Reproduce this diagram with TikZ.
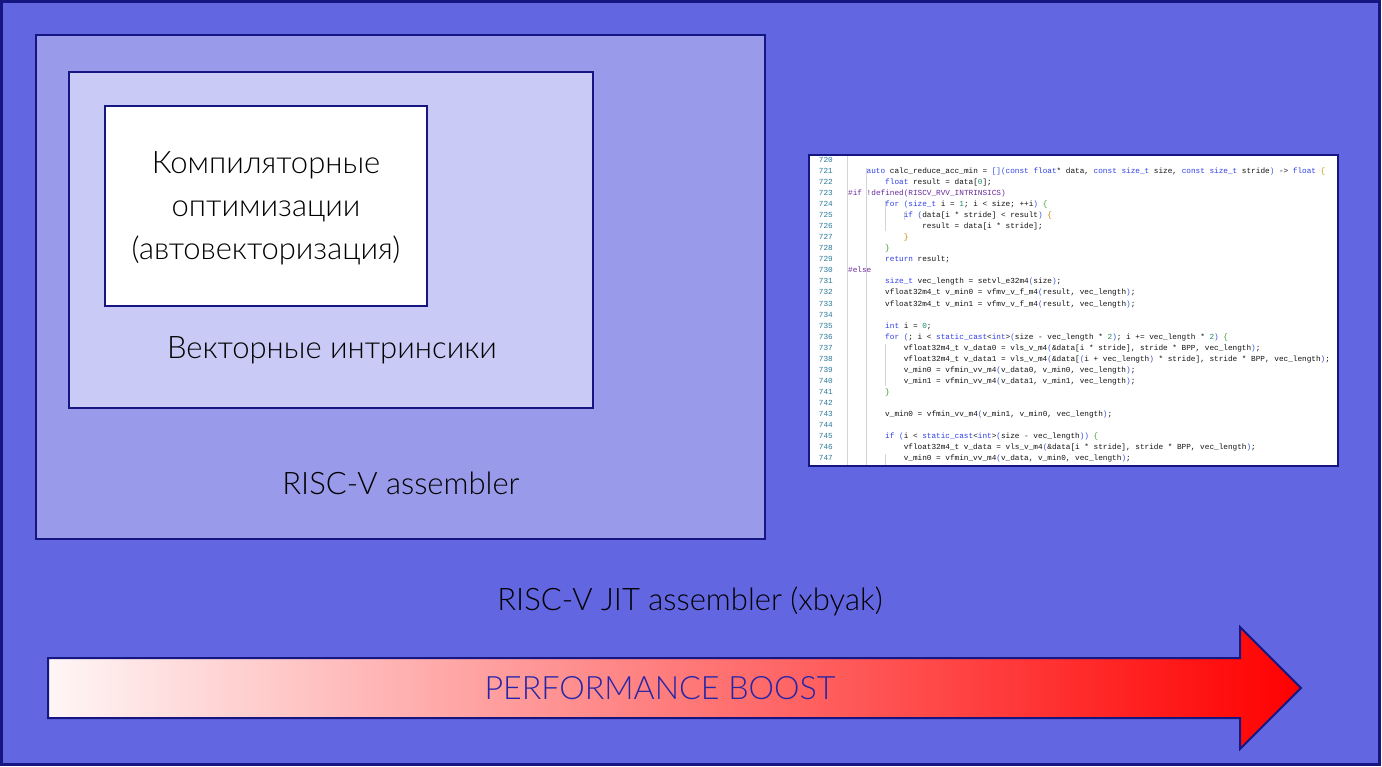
\documentclass[tikz,border=0pt]{standalone}
\usepackage{fontspec}
\setmainfont{Lato Light}
\newfontfamily\codefont{Liberation Mono}
\definecolor{frame}{HTML}{161683}
\definecolor{bgA}{HTML}{6366E1}
\definecolor{bgB}{HTML}{999AE9}
\definecolor{bgC}{HTML}{C9CAF5}
\definecolor{perf}{HTML}{2525A8}
\definecolor{kw}{HTML}{2F3FE8}
\definecolor{num}{HTML}{1F8A6A}
\definecolor{pre}{HTML}{6A2A9A}
\definecolor{cdc}{HTML}{141414}
\definecolor{lnc}{HTML}{2B7A9A}
\definecolor{bra}{HTML}{C89A00}
\definecolor{brb}{HTML}{3A9A3A}
\definecolor{brc}{HTML}{D07A00}
\definecolor{brp}{HTML}{3550D8}
\definecolor{guide}{HTML}{D4D4D4}
\definecolor{arrl}{HTML}{FFF6F6}
\newcommand\K[1]{\textcolor{kw}{#1}}
\newcommand\N[1]{\textcolor{num}{#1}}
\newcommand\Pre[1]{\textcolor{pre}{#1}}
\newcommand\Ba[1]{\textcolor{bra}{#1}}
\newcommand\Bb[1]{\textcolor{brb}{#1}}
\newcommand\Bc[1]{\textcolor{brc}{#1}}
\newcommand\Bp[1]{\textcolor{brp}{#1}}
\newcommand\codeline[3]{%
  \node[lnum] (n#1) at (833,{162.5+11.04*(#1-720)}) {#1};%
  \node[code] (c#1) at ({848+4.63*#2},{162.5+11.04*(#1-720)}) {#3};}
\newcommand\numline[1]{%
  \node[lnum] (n#1) at (833,{162.5+11.04*(#1-720)}) {#1};}
\begin{document}
\begin{tikzpicture}[x=1pt,y=-1pt,
  box/.style={draw=frame,line width=2.4pt,anchor=north west,inner sep=0,outer sep=0},
  lbl/.style={inner sep=0,text=black,font=\fontsize{31}{43}\selectfont,align=center},
  lnum/.style={inner sep=0,anchor=base east,text=lnc,font=\codefont\fontsize{7.72}{9}\selectfont},
  code/.style={inner sep=0,anchor=base west,text=cdc,font=\codefont\fontsize{7.72}{9}\selectfont\frenchspacing},
  gline/.style={draw=guide,line width=0.7pt}]
\useasboundingbox (0,0) rectangle (1382,766);
% nested boxes
\node[box,fill=bgA,minimum width=1378,minimum height=763] (outer) at (1.5,1.5) {};
\node[box,fill=bgB,minimum width=729,minimum height=504] (asm) at (36,35) {};
\node[box,fill=bgC,minimum width=524,minimum height=336] (intr) at (69,72) {};
\node[box,fill=white,minimum width=322,minimum height=200] (comp) at (105,106) {};
% labels
\node[lbl] (tcomp) at (266,208) {Компиляторные\\оптимизации\\(автовекторизация)};
\node[lbl] (tintr) at (332,350) {Векторные интринсики};
\node[lbl] (tasm) at (401,483) {RISC-V assembler};
\node[lbl] (tjit) at (690,601) {RISC-V JIT assembler (xbyak)};
% arrow
\path[draw=frame,line width=2pt,left color=arrl,right color=red,line join=miter]
  (48,658) -- (1240,658) -- (1240,627) -- (1301,688) -- (1240,749) -- (1240,718) -- (48,718) -- cycle;
\node[lbl,text=perf,font=\fontsize{32.2}{40}\selectfont] (tperf) at (660,688) {PERFORMANCE BOOST};
% code screenshot
\node[box,fill=white,line width=2pt,minimum width=529,minimum height=311] (codebox) at (809,155) {};
\draw[gline] (847,156) -- (847,465);
\draw[gline] (866,168) -- (866,465);
\draw[gline] (885,201) -- (885,231);
\draw[gline] (904,212) -- (904,220);
\draw[gline] (885,344) -- (885,386);
\draw[gline] (885,454) -- (885,465);
\numline{720}
\codeline{721}{4}{\K{auto} calc\_reduce\_acc\_min = \Bp{[](}\K{const} \K{float}* data, \K{const} \K{size\_t} size, \K{const} \K{size\_t} stride\Bp{)} -> \K{float} \Ba{\{}}
\codeline{722}{8}{\K{float} result = data[\N{0}];}
\codeline{723}{0}{\Pre{\#if !defined(RISCV\_RVV\_INTRINSICS)}}
\codeline{724}{8}{\K{for} \Bp{(}\K{size\_t} i = \N{1}; i < size; ++i\Bp{)} \Bb{\{}}
\codeline{725}{12}{\K{if} \Bp{(}data[i * stride] < result\Bp{)} \Bc{\{}}
\codeline{726}{16}{result = data[i * stride];}
\codeline{727}{12}{\Bc{\}}}
\codeline{728}{8}{\Bb{\}}}
\codeline{729}{8}{\K{return} result;}
\codeline{730}{0}{\Pre{\#else}}
\codeline{731}{8}{\K{size\_t} vec\_length = setvl\_e32m4\Bp{(}size\Bp{)};}
\codeline{732}{8}{vfloat32m4\_t v\_min0 = vfmv\_v\_f\_m4\Bp{(}result, vec\_length\Bp{)};}
\codeline{733}{8}{vfloat32m4\_t v\_min1 = vfmv\_v\_f\_m4\Bp{(}result, vec\_length\Bp{)};}
\numline{734}
\codeline{735}{8}{\K{int} i = \N{0};}
\codeline{736}{8}{\K{for} \Bp{(}; i < \K{static\_cast}<\K{int}>\Bp{(}size - vec\_length * \N{2}\Bp{)}; i += vec\_length * \N{2}\Bp{)} \Bb{\{}}
\codeline{737}{12}{vfloat32m4\_t v\_data0 = vls\_v\_m4\Bp{(}\&data[i * stride], stride * BPP, vec\_length\Bp{)};}
\codeline{738}{12}{vfloat32m4\_t v\_data1 = vls\_v\_m4\Bp{(}\&data[\Bp{(}i + vec\_length\Bp{)} * stride], stride * BPP, vec\_length\Bp{)};}
\codeline{739}{12}{v\_min0 = vfmin\_vv\_m4\Bp{(}v\_data0, v\_min0, vec\_length\Bp{)};}
\codeline{740}{12}{v\_min1 = vfmin\_vv\_m4\Bp{(}v\_data1, v\_min1, vec\_length\Bp{)};}
\codeline{741}{8}{\Bb{\}}}
\numline{742}
\codeline{743}{8}{v\_min0 = vfmin\_vv\_m4\Bp{(}v\_min1, v\_min0, vec\_length\Bp{)};}
\numline{744}
\codeline{745}{8}{\K{if} \Bp{(}i < \K{static\_cast}<\K{int}>\Bp{(}size - vec\_length\Bp{))} \Bb{\{}}
\codeline{746}{12}{vfloat32m4\_t v\_data = vls\_v\_m4\Bp{(}\&data[i * stride], stride * BPP, vec\_length\Bp{)};}
\codeline{747}{12}{v\_min0 = vfmin\_vv\_m4\Bp{(}v\_data, v\_min0, vec\_length\Bp{)};}
\end{tikzpicture}
\end{document}
